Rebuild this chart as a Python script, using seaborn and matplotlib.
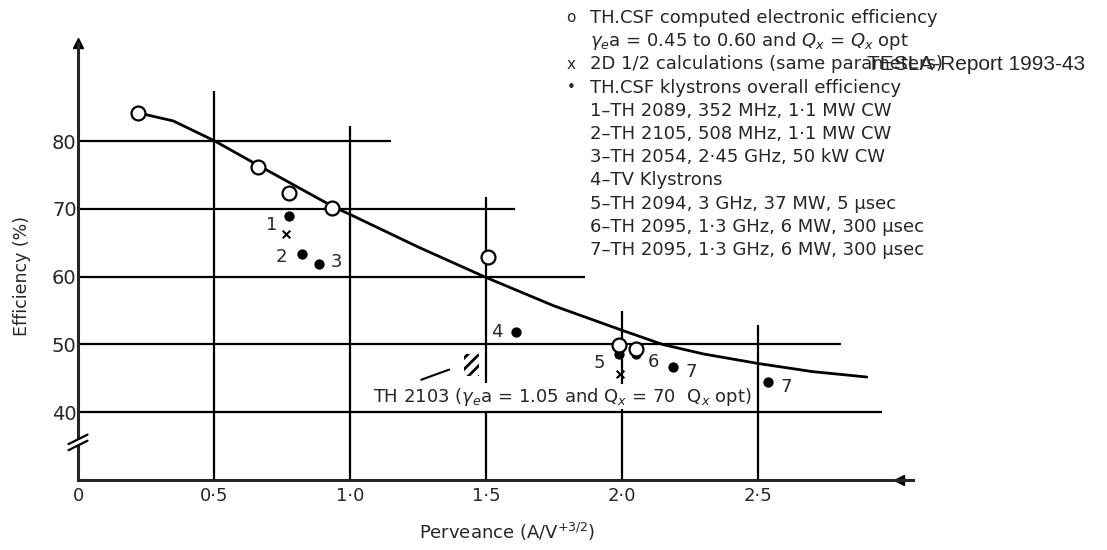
import matplotlib
matplotlib.use("Agg")
import matplotlib.pyplot as plt
from matplotlib.patches import Rectangle
import seaborn as sns
import pandas as pd

# ---- values ----
# smooth curve through the computed efficiencies
curve_x = [0.22, 0.35, 0.5, 0.66, 0.8, 0.94, 1.0, 1.25, 1.5, 1.75, 2.0, 2.15, 2.3, 2.5, 2.7, 2.9]
curve_y = [84.2, 83.0, 80.1, 76.5, 73.4, 70.3, 69.2, 64.4, 59.9, 55.7, 52.1, 50.0, 48.6, 47.2, 46.0, 45.2]

# o  TH.CSF computed electronic efficiency
computed_x = [0.22, 0.66, 0.775, 0.934, 1.508, 1.99, 2.05]
computed_y = [84.1, 76.2, 72.3, 70.1, 62.9, 49.9, 49.3]

# x  2D 1/2 calculations
calc_x = [0.763, 1.994]
calc_y = [66.3, 45.7]

# •  TH.CSF klystrons overall efficiency
klystron_x = [0.776, 0.822, 0.885, 1.61, 1.99, 2.05, 2.188, 2.536]
klystron_y = [69.0, 63.4, 61.9, 51.9, 48.6, 48.6, 46.7, 44.5]

# numbers written next to the klystron dots
label_text = ["1", "2", "3", "4", "5", "6", "7", "7"]
label_x = [0.712, 0.749, 0.951, 1.538, 1.916, 2.117, 2.253, 2.604]
label_y = [67.6, 62.9, 62.2, 51.9, 47.2, 47.4, 45.9, 43.7]

x_ticks = [0, 0.5, 1.0, 1.5, 2.0, 2.5]
x_tick_labels = ["0", "0·5", "1·0", "1·5", "2·0", "2·5"]
y_ticks = [40, 50, 60, 70, 80]

legend_lines = [
    "TH.CSF computed electronic efficiency",
    r"$\gamma_e$a = 0.45 to 0.60 and $Q_x$ = $Q_x$ opt",
    "2D 1/2 calculations (same parameters)",
    "TH.CSF klystrons overall efficiency",
    "1–TH 2089, 352 MHz, 1·1 MW CW",
    "2–TH 2105, 508 MHz, 1·1 MW CW",
    "3–TH 2054, 2·45 GHz, 50 kW CW",
    "4–TV Klystrons",
    "5–TH 2094, 3 GHz, 37 MW, 5 μsec",
    "6–TH 2095, 1·3 GHz, 6 MW, 300 μsec",
    "7–TH 2095, 1·3 GHz, 6 MW, 300 μsec",
]
legend_symbols = ["o", "", "x", "•", "", "", "", "", "", "", ""]

sns.set_style("white")
plt.rcParams["font.family"] = ["DejaVu Sans"]
plt.rcParams["hatch.linewidth"] = 2.0

W, H = 1107, 550
fig = plt.figure(figsize=(W / 100, H / 100), dpi=100)
ax = fig.add_axes([78 / W, 1 - 480 / H, 835 / W, 437 / H])
ax.set_xlim(0, 3.07)
ax.set_ylim(30, 94.5)

# partial grid lines, as drawn in the original
ax.hlines([80, 70, 60, 50, 40], 0, [1.15, 1.607, 1.864, 2.805, 2.957],
          color="black", linewidth=1.6, zorder=1)
ax.vlines([0.5, 1.0, 1.5, 1.5, 2.0, 2.5], [30, 30, 30, 44.3, 30, 30],
          [87.4, 82.2, 40, 71.8, 54.9, 52.9], color="black", linewidth=1.6, zorder=1)

curve = pd.DataFrame({"perveance": curve_x, "efficiency": curve_y})
sns.lineplot(data=curve, x="perveance", y="efficiency", ax=ax, color="black",
             linewidth=2.0, sort=False, estimator=None, zorder=3)

sns.scatterplot(x=klystron_x, y=klystron_y, ax=ax, color="black", s=55,
                edgecolor="black", linewidth=0, zorder=4)
sns.scatterplot(x=computed_x, y=computed_y, ax=ax, marker="o", s=100,
                facecolor="white", edgecolor="black", linewidth=1.6, zorder=5)
sns.scatterplot(x=calc_x, y=calc_y, ax=ax, marker="x", s=30, color="black",
                linewidth=1.5, zorder=5)

for t, x, y in zip(label_text, label_x, label_y):
    ax.text(x, y, t, fontsize=13, ha="center", va="center", zorder=6)

# TH 2103 hatched mark with its leader line and note
ax.add_patch(Rectangle((1.42, 45.3), 0.055, 3.3, hatch="///", fill=False,
                       linewidth=0, edgecolor="black", zorder=4))
ax.plot([1.262, 1.365], [44.8, 46.3], color="black", linewidth=1.5, zorder=4)
ax.text(1.085, 42.3, r"TH 2103 ($\gamma_e$a = 1.05 and Q$_x$ = 70  Q$_x$ opt)",
        fontsize=13, ha="left", va="center", zorder=6,
        bbox=dict(facecolor="white", edgecolor="none", pad=1))

# axes: only left and bottom, with the axis break and arrows
for side in ["top", "right"]:
    ax.spines[side].set_visible(False)
for side in ["left", "bottom"]:
    ax.spines[side].set_linewidth(2.2)
ax.plot([0], [94.5], marker="^", color="black", markersize=7, clip_on=False)
ax.plot([3.02], [30], marker="<", color="black", markersize=7, clip_on=False)
ax.plot([-0.035, 0.035], [34.4, 35.8], color="black", linewidth=1.6, clip_on=False, zorder=6)
ax.plot([-0.035, 0.035], [35.3, 36.7], color="black", linewidth=1.6, clip_on=False, zorder=6)
ax.fill_between([-0.02, 0.02], [34.9, 35.7], [35.6, 36.4], color="white", zorder=5, clip_on=False)

ax.set_xticks(x_ticks)
ax.set_xticklabels(x_tick_labels)
ax.set_yticks(y_ticks)
ax.tick_params(axis="both", length=0)
ax.tick_params(axis="x", pad=5, labelsize=13)
ax.tick_params(axis="y", pad=1, labelsize=14)
ax.set_xlabel("")
ax.set_ylabel("")

fig.text(22 / W, 1 - 276 / H, "Efficiency (%)", rotation=90, fontsize=12.5,
         ha="center", va="center")
fig.text(507 / W, 1 - 532 / H, r"Perveance (A/V$^{+3/2}$)", fontsize=13,
         ha="center", va="center")

# legend block written beside the graph
for i, (sym, line) in enumerate(zip(legend_symbols, legend_lines)):
    yy = 1 - (18 + 23.2 * i) / H
    if sym:
        fig.text(571 / W, yy, sym, fontsize=11, ha="center", va="center")
    fig.text(590 / W, yy, line, fontsize=13, ha="left", va="center")

fig.text(867 / W, 1 - 64 / H, "TESLA-Report 1993-43", fontsize=15,
         family="Liberation Sans", ha="left", va="center", zorder=10)

fig.savefig("out.png", dpi=100)
